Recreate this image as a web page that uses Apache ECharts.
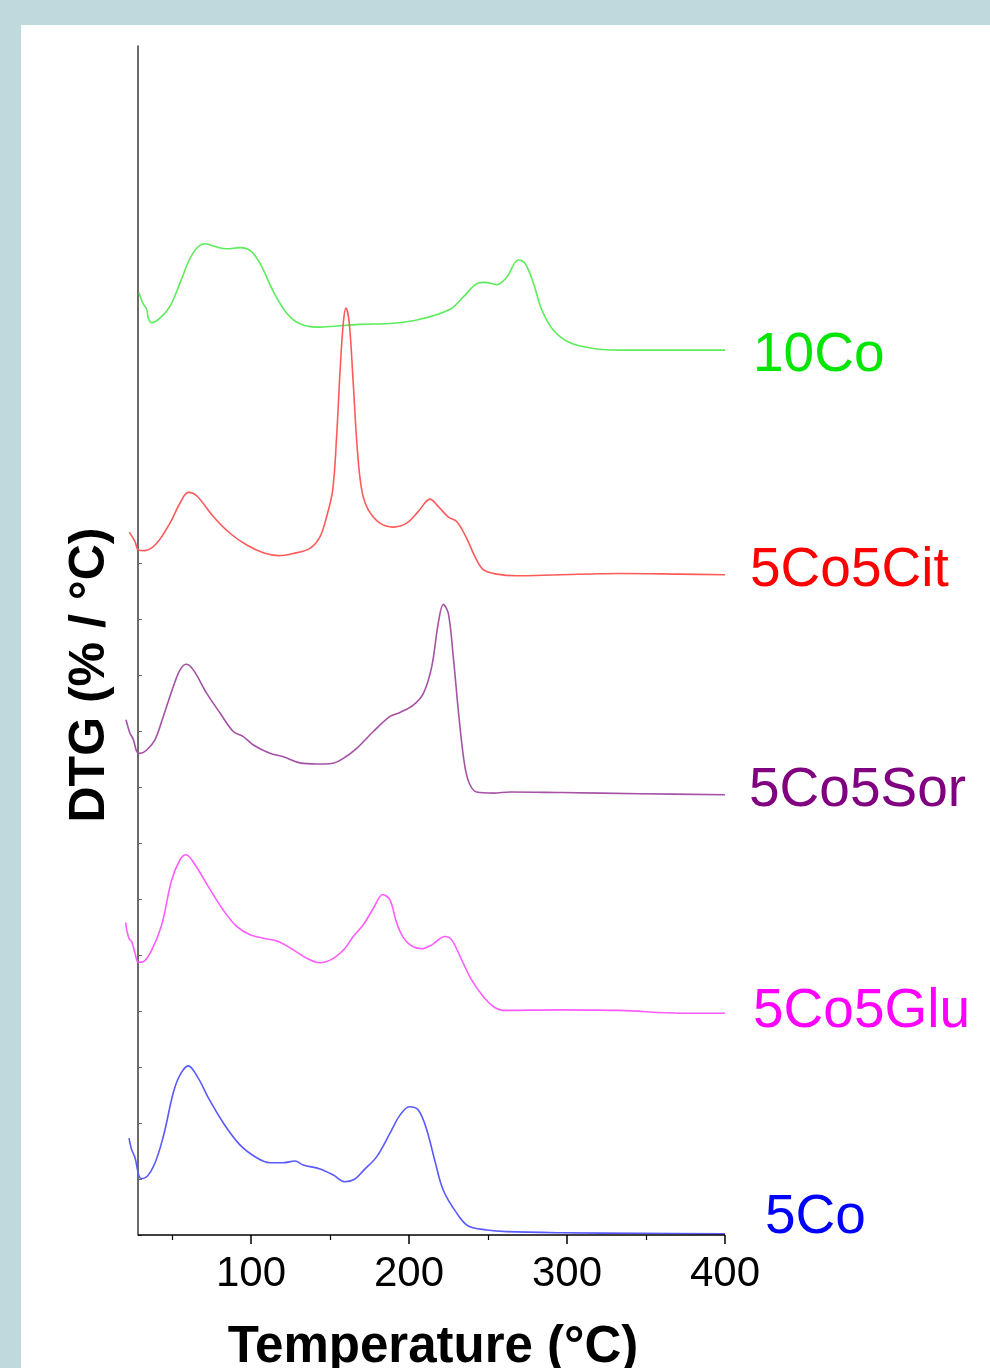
<!DOCTYPE html>
<html>
<head>
<meta charset="utf-8">
<script src="https://cdn.jsdelivr.net/npm/echarts@6/dist/echarts.min.js"></script>
<style>
  html, body { margin: 0; padding: 0; width: 990px; height: 1368px; overflow: hidden; background: #bedadd; }
  #panel { position: absolute; left: 21px; top: 25px; width: 969px; height: 1343px; background: #ffffff; }
  #chart { width: 969px; height: 1343px; }
</style>
</head>
<body>
<div id="panel"><div id="chart"></div></div>
<script>
// ---- data (temperature °C, DTG offset-stacked arbitrary units) ----
const xTickValues = [100, 200, 300, 400];
const xMinorTickValues = [50, 150, 250, 350];
const yTickValues = [0, 1, 2, 3, 4, 5, 6, 7, 8, 9, 10, 11, 12];
const xAxisStart = 28.5;   // where the drawn axes meet
const xDataMin = 20;       // curves start slightly left of the y axis

const seriesNames = ['10Co', '5Co5Cit', '5Co5Sor', '5Co5Glu', '5Co'];
const textColors = ['#00e600', '#ff0000', '#800080', '#ff00ff', '#0000ff'];
const lineColors = ['#5cec5c', '#ff5a5a', '#a552a5', '#ff5cff', '#5a5aff'];

const d10Co = [[29.1,16.83],[31.5,16.64],[34.0,16.53],[35.0,16.37],[37.2,16.29],[42.4,16.37],[48.7,16.58],[55.1,17.0],[61.4,17.44],[66.6,17.65],[70.9,17.70],[78.3,17.64],[84.6,17.61],[93.0,17.63],[99.4,17.58],[105.7,17.35],[114.1,16.85],[122.6,16.46],[131.0,16.27],[141.6,16.21],[154.2,16.23],[169.0,16.26],[190.1,16.28],[207.0,16.35],[226.0,16.53],[234.4,16.75],[243.9,17.0],[248.1,17.01],[255.5,16.97],[261.8,17.10],[269.2,17.41],[273.4,17.35],[278.7,17.0],[284.0,16.52],[291.3,16.16],[301.9,15.93],[316.6,15.83],[333.5,15.80],[371.5,15.80],[400,15.80]];

const d5Co5Cit = [[23.0,12.55],[26.6,12.38],[28.7,12.23],[32.9,12.22],[40.3,12.35],[48.7,12.71],[55.1,13.07],[60.3,13.26],[65.6,13.20],[76.1,12.83],[86.7,12.53],[97.3,12.32],[107.8,12.18],[117.3,12.13],[126.8,12.17],[137.3,12.26],[143.7,12.47],[147.9,12.83],[151.7,13.30],[154.2,14.26],[156.3,15.39],[158.4,16.28],[160.1,16.55],[162.2,16.28],[164.7,15.21],[167.3,14.02],[170.1,13.30],[174.2,12.95],[181.6,12.71],[190.1,12.64],[198.5,12.71],[205.9,12.92],[213.3,13.14],[218.5,13.01],[224.9,12.82],[230.2,12.74],[236.5,12.44],[241.8,12.11],[247.0,11.88],[255.5,11.80],[268.2,11.77],[295.6,11.79],[333.5,11.81],[371.5,11.80],[400,11.79]];

const d5Co5Sor = [[20.9,9.20],[23.4,8.96],[25.5,8.85],[27.7,8.63],[29.7,8.60],[34.0,8.66],[39.2,8.84],[44.5,9.26],[50.8,9.79],[55.1,10.09],[58.9,10.19],[63.5,10.09],[72.0,9.67],[80.4,9.32],[88.8,8.99],[95.1,8.90],[101.5,8.75],[112.0,8.60],[120.4,8.54],[131.0,8.43],[141.6,8.41],[151.1,8.42],[158.4,8.51],[166.9,8.69],[177.4,8.99],[188.0,9.26],[194.3,9.33],[202.7,9.46],[209.1,9.67],[214.4,10.15],[218.5,10.92],[221.7,11.26],[224.9,11.10],[228.0,10.33],[231.8,9.20],[235.4,8.36],[238.6,8.04],[242.8,7.91],[253.4,7.89],[263.9,7.91],[295.6,7.90],[346.2,7.88],[400,7.86]];

const d5Co5Glu = [[20.7,5.58],[21.3,5.45],[23.0,5.28],[24.5,5.24],[26.6,5.03],[28.7,4.87],[31.8,4.88],[37.2,5.09],[43.5,5.54],[49.8,6.34],[55.1,6.70],[58.9,6.79],[64.6,6.61],[73.0,6.22],[82.5,5.80],[90.9,5.51],[99.4,5.36],[107.8,5.30],[117.3,5.24],[126.8,5.09],[135.3,4.94],[143.7,4.86],[152.1,4.94],[159.5,5.12],[164.7,5.33],[171.1,5.54],[177.4,5.83],[183.4,6.08],[188.0,5.98],[192.2,5.57],[196.4,5.31],[201.7,5.16],[208.0,5.11],[214.4,5.18],[222.8,5.33],[227.0,5.27],[233.4,4.91],[239.7,4.55],[247.0,4.26],[253.4,4.08],[259.7,4.01],[295.6,4.02],[333.5,4.01],[371.5,3.96],[400,3.96]];

const d5Co = [[22.8,1.73],[24.5,1.52],[26.6,1.38],[29.7,1.02],[31.8,1.01],[38.2,1.22],[44.5,1.76],[50.8,2.54],[55.1,2.86],[60.3,3.02],[66.6,2.80],[73.0,2.45],[82.5,2.0],[93.0,1.61],[103.6,1.38],[112.0,1.29],[120.4,1.29],[127.8,1.32],[133.1,1.25],[143.7,1.18],[152.1,1.07],[159.5,0.95],[165.8,1.0],[171.1,1.15],[179.6,1.40],[188.0,1.82],[194.3,2.14],[200.2,2.29],[205.9,2.23],[211.2,1.88],[216.5,1.31],[221.7,0.80],[230.2,0.39],[237.5,0.16],[249.2,0.09],[261.8,0.06],[295.6,0.04],[346.2,0.03],[400,0.02]];

const allData = [d10Co, d5Co5Cit, d5Co5Sor, d5Co5Glu, d5Co];
// label anchor positions (layout only)
const labelPos = [[732,330],[729,545],[728,765],[732,986],[744,1192]];

const FONT = '"Liberation Sans", Arial, Helvetica, sans-serif';
const chart = echarts.init(document.getElementById('chart'), null, { renderer: 'canvas' });

// layout: T=400 at x=704 (chart coords), 1.58 px per °C
const pxPerDeg = 1.58;
const plotRight = 704;
const gridLeft = plotRight - (400 - xDataMin) * pxPerDeg;
const yAxisShift = (xAxisStart - xDataMin) * pxPerDeg;

const series = allData.map((d, i) => ({
  name: seriesNames[i],
  type: 'line',
  xAxisIndex: 0,
  yAxisIndex: 0,
  data: d,
  showSymbol: false,
  symbol: 'none',
  smooth: 0.35,
  clip: false,
  lineStyle: { color: lineColors[i], width: 1.6 },
  z: 3
}));
// x axis baseline from the y axis to 400 °C
series.push({
  type: 'line', name: 'xbase', data: [], xAxisIndex: 0, yAxisIndex: 0, silent: true,
  markLine: {
    silent: true, symbol: 'none', animation: false, label: { show: false },
    lineStyle: { color: '#000', width: 1.5, type: 'solid' },
    data: [[{ coord: [xAxisStart, 0] }, { coord: [400, 0] }]]
  },
  z: 4
});

const graphics = seriesNames.map((n, i) => ({
  type: 'text',
  left: labelPos[i][0],
  top: labelPos[i][1] - 27,
  style: { text: n, fill: textColors[i], font: '55px ' + FONT }
}));
graphics.push({
  type: 'text',
  x: 69, y: 650,
  rotation: Math.PI / 2,
  style: { text: 'DTG (% / °C)', fill: '#000', font: 'bold 50px ' + FONT, align: 'center', verticalAlign: 'middle' }
});
graphics.push({
  type: 'text',
  x: 412, y: 1323,
  style: { text: 'Temperature (°C)', fill: '#000', font: 'bold 51px ' + FONT, align: 'center', verticalAlign: 'middle' }
});

chart.setOption({
  animation: false,
  backgroundColor: '#ffffff',
  grid: { left: gridLeft, top: 21, width: plotRight - gridLeft, height: 1189, containLabel: false },
  xAxis: [
    {
      type: 'value', position: 'bottom', min: xDataMin, max: 400,
      axisLine: { show: false, onZero: false },
      axisTick: { show: true, inside: false, length: 9, customValues: xTickValues, lineStyle: { color: '#000', width: 1.5 } },
      axisLabel: { show: true, customValues: xTickValues, fontSize: 42, color: '#000', fontFamily: FONT, margin: 18, showMinLabel: true, showMaxLabel: true },
      splitLine: { show: false }
    },
    {
      type: 'value', position: 'bottom', min: xDataMin, max: 400,
      axisLine: { show: false, onZero: false },
      axisTick: { show: true, inside: false, length: 5, customValues: xMinorTickValues, lineStyle: { color: '#000', width: 1.2 } },
      axisLabel: { show: false },
      splitLine: { show: false }
    }
  ],
  yAxis: {
    type: 'value', min: 0, max: 21.23, position: 'left', offset: -yAxisShift,
    axisLine: { show: true, onZero: false, lineStyle: { color: '#3a3a3a', width: 1.5 } },
    axisTick: { show: true, inside: true, length: 4, customValues: yTickValues, lineStyle: { color: '#666', width: 1 } },
    axisLabel: { show: false },
    splitLine: { show: false }
  },
  series: series,
  graphic: graphics
});
</script>
</body>
</html>
